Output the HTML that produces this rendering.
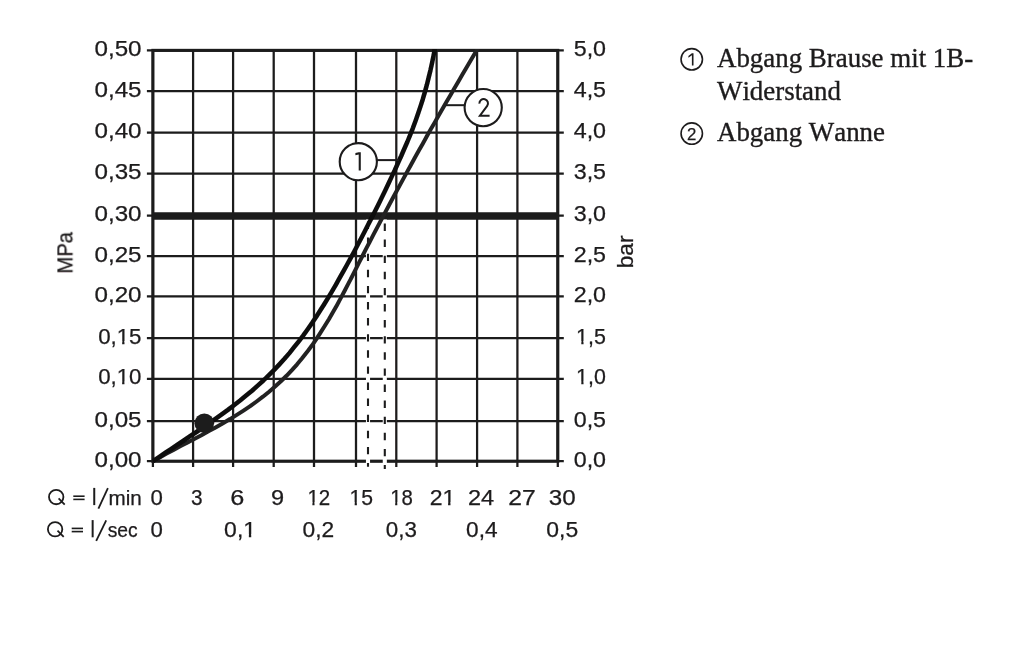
<!DOCTYPE html><html><head><meta charset="utf-8"><title>Durchflussdiagramm</title>
<style>html,body{margin:0;padding:0;background:#fff;}body{width:1024px;height:652px;overflow:hidden;font-family:"Liberation Sans",sans-serif;}svg{display:block;}text{font-family:"Liberation Sans",sans-serif;fill:#1d1b1c;stroke:#1d1b1c;stroke-width:0.25px;} .serif{font-family:"Liberation Serif",serif;stroke-width:0.35px;}</style></head><body>
<svg width="1024" height="652" viewBox="0 0 1024 652">
<rect x="0" y="0" width="1024" height="652" fill="#ffffff"/>
<filter id="soft" x="-2%" y="-2%" width="104%" height="104%"><feGaussianBlur stdDeviation="0.45"/></filter>
<g filter="url(#soft)">
<g stroke="#1d1b1c" stroke-width="2.25" fill="none">
<line x1="152.90" y1="50.40" x2="152.90" y2="467.00"/>
<line x1="193.10" y1="50.40" x2="193.10" y2="467.00"/>
<line x1="233.10" y1="50.40" x2="233.10" y2="467.00"/>
<line x1="273.70" y1="50.40" x2="273.70" y2="467.00"/>
<line x1="314.00" y1="50.40" x2="314.00" y2="467.00"/>
<line x1="356.00" y1="50.40" x2="356.00" y2="467.00"/>
<line x1="396.30" y1="50.40" x2="396.30" y2="467.00"/>
<line x1="436.60" y1="50.40" x2="436.60" y2="467.00"/>
<line x1="477.10" y1="50.40" x2="477.10" y2="467.00"/>
<line x1="517.40" y1="50.40" x2="517.40" y2="467.00"/>
<line x1="557.80" y1="50.40" x2="557.80" y2="467.00"/>
<line x1="146.90" y1="50.40" x2="563.80" y2="50.40"/>
<line x1="146.90" y1="91.00" x2="563.80" y2="91.00"/>
<line x1="146.90" y1="132.70" x2="563.80" y2="132.70"/>
<line x1="146.90" y1="173.50" x2="563.80" y2="173.50"/>
<line x1="146.90" y1="215.70" x2="563.80" y2="215.70"/>
<line x1="146.90" y1="256.00" x2="563.80" y2="256.00"/>
<line x1="146.90" y1="296.40" x2="563.80" y2="296.40"/>
<line x1="146.90" y1="338.20" x2="563.80" y2="338.20"/>
<line x1="146.90" y1="378.80" x2="563.80" y2="378.80"/>
<line x1="146.90" y1="421.00" x2="563.80" y2="421.00"/>
<line x1="146.90" y1="461.20" x2="563.80" y2="461.20"/>
</g>
<rect x="152.90" y="50.40" width="404.90" height="410.80" fill="none" stroke="#1d1b1c" stroke-width="3.1"/>
<line x1="152.90" y1="215.9" x2="557.80" y2="215.9" stroke="#1d1b1c" stroke-width="7.5"/>
<line x1="368.00" y1="219.6" x2="368.00" y2="467.30" stroke="#fff" stroke-width="4.1"/>
<line x1="368.00" y1="221.50" x2="368.00" y2="466.80" stroke="#1d1b1c" stroke-width="2.1" stroke-dasharray="7.4 8.7"/>
<line x1="384.80" y1="219.6" x2="384.80" y2="469.50" stroke="#fff" stroke-width="4.1"/>
<line x1="384.80" y1="223.50" x2="384.80" y2="469.00" stroke="#1d1b1c" stroke-width="2.1" stroke-dasharray="7.4 8.7"/>
<clipPath id="cp"><rect x="100" y="48.90" width="600" height="500"/></clipPath>
<g clip-path="url(#cp)">
<path d="M152.9 461.2 L159.7 457.4 L166.6 453.6 L173.5 449.9 L180.6 446.1 L187.6 442.4 L194.7 438.7 L201.9 434.9 L208.9 431.1 L216.0 427.2 L223.0 423.2 L230.0 419.1 L236.8 414.9 L243.5 410.6 L250.2 406.2 L256.6 401.5 L262.9 396.7 L269.1 391.7 L275.1 386.6 L280.9 381.3 L286.5 375.8 L291.9 370.1 L297.1 364.3 L302.1 358.3 L307.0 352.1 L311.7 345.8 L316.2 339.3 L320.5 332.7 L324.7 326.0 L328.9 319.2 L332.9 312.3 L336.8 305.4 L340.6 298.4 L344.4 291.3 L348.1 284.2 L351.8 277.0 L355.4 269.9 L359.0 262.7 L362.7 255.5 L366.3 248.4 L370.0 241.3 L373.7 234.2 L377.4 227.1 L381.1 220.1 L384.8 213.1 L388.6 206.0 L392.3 199.0 L396.1 192.0 L399.9 185.1 L403.7 178.1 L407.5 171.1 L411.3 164.2 L415.1 157.3 L419.0 150.3 L422.9 143.4 L426.7 136.5 L430.6 129.6 L434.6 122.7 L438.5 115.8 L442.4 108.9 L446.4 102.1 L450.4 95.2 L454.4 88.3 L458.4 81.4 L462.4 74.5 L466.4 67.7 L470.5 60.8 L474.5 53.9 L478.6 47.0 L482.7 40.1" fill="none" stroke="#242223" stroke-width="4.0" stroke-linejoin="round"/>
<path d="M152.9 461.2 L159.0 457.1 L165.1 452.9 L171.3 448.8 L177.5 444.6 L183.8 440.5 L190.1 436.2 L196.5 432.0 L202.8 427.7 L209.1 423.3 L215.4 418.9 L221.7 414.4 L227.9 409.9 L234.0 405.2 L240.1 400.5 L246.1 395.6 L252.0 390.7 L257.7 385.6 L263.4 380.5 L268.9 375.2 L274.2 369.9 L279.4 364.4 L284.5 358.8 L289.4 353.1 L294.1 347.2 L298.8 341.3 L303.3 335.4 L307.7 329.3 L312.0 323.1 L316.1 316.9 L320.2 310.6 L324.2 304.2 L328.1 297.8 L332.0 291.3 L335.8 284.8 L339.5 278.2 L343.2 271.6 L346.9 265.0 L350.5 258.4 L354.1 251.7 L357.6 245.0 L361.2 238.3 L364.7 231.5 L368.1 224.8 L371.6 218.0 L375.0 211.2 L378.4 204.4 L381.8 197.5 L385.1 190.7 L388.4 183.8 L391.6 176.9 L394.9 170.0 L398.0 163.0 L401.2 156.0 L404.2 149.0 L407.3 142.0 L410.2 134.9 L413.0 127.8 L415.6 120.7 L418.1 113.6 L420.5 106.4 L422.8 99.2 L424.9 92.0 L426.9 84.7 L428.7 77.4 L430.5 70.1 L432.1 62.8 L433.6 55.4 L435.0 48.0 L436.3 40.5" fill="none" stroke="#0c0b0b" stroke-width="4.5" stroke-linejoin="round"/>
</g>
<circle cx="204.3" cy="423.3" r="9.8" fill="#1d1b1c"/>
<line x1="377" y1="160.1" x2="399" y2="160.1" stroke="#1d1b1c" stroke-width="2"/>
<line x1="446" y1="105.2" x2="465" y2="105.2" stroke="#1d1b1c" stroke-width="2"/>
<circle cx="358.3" cy="161.7" r="18.6" fill="#fff" stroke="#1d1b1c" stroke-width="2.1"/>
<circle cx="483.2" cy="107.6" r="18.6" fill="#fff" stroke="#1d1b1c" stroke-width="2.1"/>
<path d="M355.4 153.1 L358.7 152.3 L360.8 152.3 L360.8 170.4 L358.7 170.4 L358.7 154.4 L355.4 155.2 Z" fill="#1d1b1c"/>
<path d="M479.4 103.6 A4.3 4.3 0 1 1 487.2 105.8 L479.9 115.75 H489.6" fill="none" stroke="#1d1b1c" stroke-width="2"/>
<text x="94.49" y="55.90" font-size="21.5" textLength="47.05" lengthAdjust="spacingAndGlyphs">0,50</text>
<text x="94.49" y="96.50" font-size="21.5" textLength="47.11" lengthAdjust="spacingAndGlyphs">0,45</text>
<text x="94.49" y="138.20" font-size="21.5" textLength="47.05" lengthAdjust="spacingAndGlyphs">0,40</text>
<text x="94.49" y="179.00" font-size="21.5" textLength="47.11" lengthAdjust="spacingAndGlyphs">0,35</text>
<text x="94.49" y="221.20" font-size="21.5" textLength="47.05" lengthAdjust="spacingAndGlyphs">0,30</text>
<text x="94.49" y="261.50" font-size="21.5" textLength="47.11" lengthAdjust="spacingAndGlyphs">0,25</text>
<text x="94.49" y="301.90" font-size="21.5" textLength="47.05" lengthAdjust="spacingAndGlyphs">0,20</text>
<text x="98.16" y="343.70" font-size="21.5" textLength="43.36" lengthAdjust="spacingAndGlyphs">0,15</text>
<rect x="116.52" y="341.01" width="5.64" height="4.09" fill="#fff"/>
<rect x="124.48" y="341.01" width="4.41" height="4.09" fill="#fff"/>
<text x="98.17" y="384.30" font-size="21.5" textLength="43.30" lengthAdjust="spacingAndGlyphs">0,10</text>
<rect x="116.50" y="381.61" width="5.63" height="4.09" fill="#fff"/>
<rect x="124.44" y="381.61" width="4.41" height="4.09" fill="#fff"/>
<text x="94.49" y="426.50" font-size="21.5" textLength="47.11" lengthAdjust="spacingAndGlyphs">0,05</text>
<text x="94.49" y="466.70" font-size="21.5" textLength="47.05" lengthAdjust="spacingAndGlyphs">0,00</text>
<text x="573.73" y="55.90" font-size="21.5" textLength="32.35" lengthAdjust="spacingAndGlyphs">5,0</text>
<text x="573.73" y="96.50" font-size="21.5" textLength="32.35" lengthAdjust="spacingAndGlyphs">4,5</text>
<text x="573.73" y="138.20" font-size="21.5" textLength="32.35" lengthAdjust="spacingAndGlyphs">4,0</text>
<text x="573.73" y="179.00" font-size="21.5" textLength="32.35" lengthAdjust="spacingAndGlyphs">3,5</text>
<text x="573.73" y="221.20" font-size="21.5" textLength="32.35" lengthAdjust="spacingAndGlyphs">3,0</text>
<text x="573.73" y="261.50" font-size="21.5" textLength="32.35" lengthAdjust="spacingAndGlyphs">2,5</text>
<text x="573.73" y="301.90" font-size="21.5" textLength="32.35" lengthAdjust="spacingAndGlyphs">2,0</text>
<text x="576.10" y="343.70" font-size="21.5" textLength="29.76" lengthAdjust="spacingAndGlyphs">1,5</text>
<rect x="575.89" y="341.01" width="5.42" height="4.09" fill="#fff"/>
<rect x="583.53" y="341.01" width="4.24" height="4.09" fill="#fff"/>
<text x="576.11" y="384.30" font-size="21.5" textLength="29.70" lengthAdjust="spacingAndGlyphs">1,0</text>
<rect x="575.89" y="381.61" width="5.41" height="4.09" fill="#fff"/>
<rect x="583.52" y="381.61" width="4.23" height="4.09" fill="#fff"/>
<text x="573.73" y="426.50" font-size="21.5" textLength="32.35" lengthAdjust="spacingAndGlyphs">0,5</text>
<text x="573.73" y="466.70" font-size="21.5" textLength="32.35" lengthAdjust="spacingAndGlyphs">0,0</text>
<text transform="translate(72.4 271.8) rotate(-90)" x="-1.66" y="0" font-size="22.3" textLength="41.49" lengthAdjust="spacingAndGlyphs">MPa</text>
<text transform="translate(632.5 266.8) rotate(-90)" x="-1.47" y="0" font-size="22.3" textLength="32.72" lengthAdjust="spacingAndGlyphs">bar</text>
<circle cx="56.20" cy="497.05" r="7.2" fill="none" stroke="#1d1b1c" stroke-width="1.8"/>
<line x1="58.60" y1="498.40" x2="64.70" y2="504.60" stroke="#1d1b1c" stroke-width="1.8"/>
<line x1="73.30" y1="496.20" x2="84.60" y2="496.20" stroke="#1d1b1c" stroke-width="1.6"/>
<line x1="73.30" y1="499.40" x2="84.60" y2="499.40" stroke="#1d1b1c" stroke-width="1.6"/>
<line x1="94.25" y1="487.90" x2="94.25" y2="505.10" stroke="#1d1b1c" stroke-width="2"/>
<line x1="98.40" y1="508.70" x2="107.90" y2="488.10" stroke="#1d1b1c" stroke-width="1.8"/>
<circle cx="55.10" cy="529.25" r="7.2" fill="none" stroke="#1d1b1c" stroke-width="1.8"/>
<line x1="57.50" y1="530.60" x2="63.70" y2="536.80" stroke="#1d1b1c" stroke-width="1.8"/>
<line x1="71.70" y1="528.40" x2="83.00" y2="528.40" stroke="#1d1b1c" stroke-width="1.6"/>
<line x1="71.70" y1="531.60" x2="83.00" y2="531.60" stroke="#1d1b1c" stroke-width="1.6"/>
<line x1="92.65" y1="520.10" x2="92.65" y2="537.30" stroke="#1d1b1c" stroke-width="2"/>
<line x1="96.20" y1="540.90" x2="106.20" y2="520.30" stroke="#1d1b1c" stroke-width="1.8"/>
<text x="108.46" y="505.00" font-size="20.6" textLength="33.26" lengthAdjust="spacingAndGlyphs">min</text>
<text x="107.67" y="537.00" font-size="20.6" textLength="30.04" lengthAdjust="spacingAndGlyphs">sec</text>
<text x="150.42" y="505.00" font-size="21.5" textLength="12.34" lengthAdjust="spacingAndGlyphs">0</text>
<text x="190.92" y="505.00" font-size="21.5" textLength="11.59" lengthAdjust="spacingAndGlyphs">3</text>
<text x="230.34" y="505.00" font-size="21.5" textLength="14.07" lengthAdjust="spacingAndGlyphs">6</text>
<text x="271.08" y="505.00" font-size="21.5" textLength="13.11" lengthAdjust="spacingAndGlyphs">9</text>
<text x="307.40" y="505.00" font-size="21.5" textLength="22.82" lengthAdjust="spacingAndGlyphs">12</text>
<rect x="307.20" y="502.31" width="5.19" height="4.09" fill="#fff"/>
<rect x="314.52" y="502.31" width="4.06" height="4.09" fill="#fff"/>
<text x="349.53" y="505.00" font-size="21.5" textLength="23.57" lengthAdjust="spacingAndGlyphs">15</text>
<rect x="349.31" y="502.31" width="5.36" height="4.09" fill="#fff"/>
<rect x="356.88" y="502.31" width="4.20" height="4.09" fill="#fff"/>
<text x="390.21" y="505.00" font-size="21.5" textLength="22.70" lengthAdjust="spacingAndGlyphs">18</text>
<rect x="390.01" y="502.31" width="5.16" height="4.09" fill="#fff"/>
<rect x="397.30" y="502.31" width="4.04" height="4.09" fill="#fff"/>
<text x="429.65" y="505.00" font-size="21.5" textLength="25.65" lengthAdjust="spacingAndGlyphs">21</text>
<rect x="442.24" y="502.31" width="5.84" height="4.09" fill="#fff"/>
<rect x="450.48" y="502.31" width="4.57" height="4.09" fill="#fff"/>
<text x="467.92" y="505.00" font-size="21.5" textLength="26.18" lengthAdjust="spacingAndGlyphs">24</text>
<text x="508.17" y="505.00" font-size="21.5" textLength="27.47" lengthAdjust="spacingAndGlyphs">27</text>
<text x="548.79" y="505.00" font-size="21.5" textLength="26.87" lengthAdjust="spacingAndGlyphs">30</text>
<text x="150.42" y="537.00" font-size="21.5" textLength="12.34" lengthAdjust="spacingAndGlyphs">0</text>
<text x="224.14" y="537.00" font-size="21.5" textLength="31.88" lengthAdjust="spacingAndGlyphs">0,1</text>
<rect x="243.04" y="534.31" width="5.80" height="4.09" fill="#fff"/>
<rect x="251.23" y="534.31" width="4.54" height="4.09" fill="#fff"/>
<text x="302.55" y="537.00" font-size="21.5" textLength="31.64" lengthAdjust="spacingAndGlyphs">0,2</text>
<text x="385.76" y="537.00" font-size="21.5" textLength="31.09" lengthAdjust="spacingAndGlyphs">0,3</text>
<text x="466.05" y="537.00" font-size="21.5" textLength="31.48" lengthAdjust="spacingAndGlyphs">0,4</text>
<text x="546.34" y="537.00" font-size="21.5" textLength="31.88" lengthAdjust="spacingAndGlyphs">0,5</text>
<circle cx="691.75" cy="59.35" r="10.7" fill="none" stroke="#1d1b1c" stroke-width="1.6"/>
<circle cx="691.75" cy="133.6" r="10.7" fill="none" stroke="#1d1b1c" stroke-width="1.6"/>
<path d="M691.9 53.3 H693.5 V65.4 H691.9 V55.3 L688.4 57.7 V56.0 Z" fill="#1d1b1c"/>
<text x="691.75" y="139.6" font-size="16.8" text-anchor="middle">2</text>
<g class="serif" font-size="26.9" style="font-kerning:none" stroke="#1d1b1c" stroke-width="0.35">
<text class="serif" x="717.0" y="67.4">Abgang Brause mit 1B-</text>
<text class="serif" x="717.0" y="99.9">Widerstand</text>
<text class="serif" x="717.0" y="140.7">Abgang Wanne</text>
</g>
</g>
</svg></body></html>
